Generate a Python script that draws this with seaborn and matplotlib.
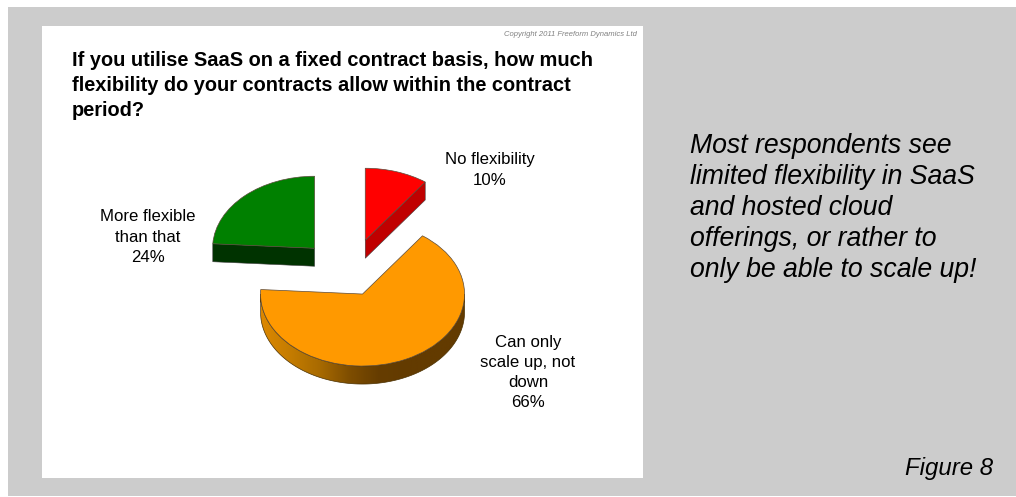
import numpy as np
import matplotlib
matplotlib.use("Agg")
import matplotlib.pyplot as plt
from matplotlib.patches import Rectangle, Polygon
import seaborn as sns

# Survey responses, clockwise from twelve o'clock
slice_names = ["No flexibility", "Can only\nscale up, not\ndown", "More flexible\nthan that"]
slice_shares = [10, 66, 24]
slice_explode = [0.5, 0.3, 0.5]
top_colors = ["#FF0000", "#FF9900", "#008000"]
wall_colors = ["#C00000", None, "#003300"]
orange_wall_stops = ["#DD8800", "#C47C00", "#A86A00", "#7F4E00", "#663D00",
                     "#633B00", "#633B00", "#633B00"]

question = ("If you utilise SaaS on a fixed contract basis, how much\n"
            "flexibility do your contracts allow within the contract\nperiod?")
comment = ("Most respondents see\nlimited flexibility in SaaS\nand hosted cloud\n"
           "offerings, or rather to\nonly be able to scale up!")
copyright_note = "Copyright 2011 Freeform Dynamics Ltd"
figure_tag = "Figure 8"

W, H = 1016, 497
sns.set_theme(style="white")
plt.rcParams["font.family"] = ["Liberation Sans", "DejaVu Sans"]

fig = plt.figure(figsize=(W / 100, H / 100), dpi=100, facecolor="white")


def frac(x, y):
    return x / W, 1 - y / H


def panel(x0, y0, x1, y1, color):
    fig.add_artist(Rectangle(frac(x0, y1), (x1 - x0) / W, (y1 - y0) / H,
                             transform=fig.transFigure, facecolor=color,
                             edgecolor="none", zorder=-5))


panel(8, 7, 1016, 496, "#CCCCCC")
panel(42, 26, 643, 478, "#FFFFFF")

# Pie axes: one radius is 102 px wide and 72 px tall, so the disc reads as tilted
R_X, R_Y, LIM = 102, 72, 1.8
CX, CY = 349.5, 274.5
ax = fig.add_axes([(CX - LIM * R_X) / W, 1 - (CY + LIM * R_Y) / H,
                   2 * LIM * R_X / W, 2 * LIM * R_Y / H])
wedges, _ = ax.pie(slice_shares, explode=slice_explode, colors=top_colors,
                   startangle=90, counterclock=False,
                   wedgeprops=dict(edgecolor="#5A4A3A", linewidth=0.5, zorder=3))
ax.set_aspect("auto")
ax.patch.set_alpha(0)

DEPTH = 18 / R_Y  # wall height in axis units


def extruded_face(points):
    """Closed outline of a rim or edge swept straight down by the wall height."""
    pts = np.asarray(points)
    low = pts[::-1] - [0, DEPTH]
    return np.vstack([pts, low])


for wedge, wall in zip(wedges, wall_colors):
    cx, cy = wedge.center
    if wall is not None:
        # Cut edge facing the viewer: the radial side whose rim point sits lower
        a = min(np.deg2rad([wedge.theta1, wedge.theta2]), key=np.sin)
        face = extruded_face([(cx, cy), (cx + np.cos(a), cy + np.sin(a))])
        ax.add_patch(Polygon(face, closed=True, facecolor=wall, edgecolor="#404040",
                             linewidth=0.4, zorder=2))
    else:
        # Curved wall along the front half of the disc, shaded left to right
        arc = np.deg2rad(np.linspace(180, 360, 160))
        rim = np.column_stack([cx + np.cos(arc), cy + np.sin(arc)])
        face = Polygon(extruded_face(rim), closed=True, facecolor="none",
                       edgecolor="#4A3000", linewidth=0.5, zorder=2)
        ax.add_patch(face)
        cmap = sns.blend_palette(orange_wall_stops, as_cmap=True)
        img = ax.imshow(np.linspace(0, 1, 256)[None, :], cmap=cmap, aspect="auto", zorder=1.5,
                        extent=(cx - 1, cx + 1, cy - 1 - DEPTH, cy))
        img.set_clip_path(face)
ax.set_xlim(-LIM, LIM)
ax.set_ylim(-LIM, LIM)
ax.set_axis_off()

# Panel text
fig.text(*frac(72, 85.5), question, fontsize=14.4, fontweight="bold", color="black",
         va="center", ha="left", linespacing=1.38)
fig.text(*frac(637, 35), copyright_note, fontsize=5.5, style="italic", color="#808080",
         ha="right", va="center")
fig.text(*frac(690, 208), comment, fontsize=19.2, style="italic", color="black",
         ha="left", va="center", linespacing=1.26)
fig.text(*frac(993, 468), figure_tag, fontsize=17.3, style="italic", color="black",
         ha="right", va="center")

# Slice captions, each carrying its share
caption_xy = [(490, 170), (528, 372.5), (148, 237)]
for name, share, (x, y) in zip(slice_names, slice_shares, caption_xy):
    fig.text(*frac(x, y), f"{name}\n{share}%", fontsize=12.1, color="black",
             ha="center", va="center", linespacing=1.42)

fig.savefig("out.png", dpi=100)
